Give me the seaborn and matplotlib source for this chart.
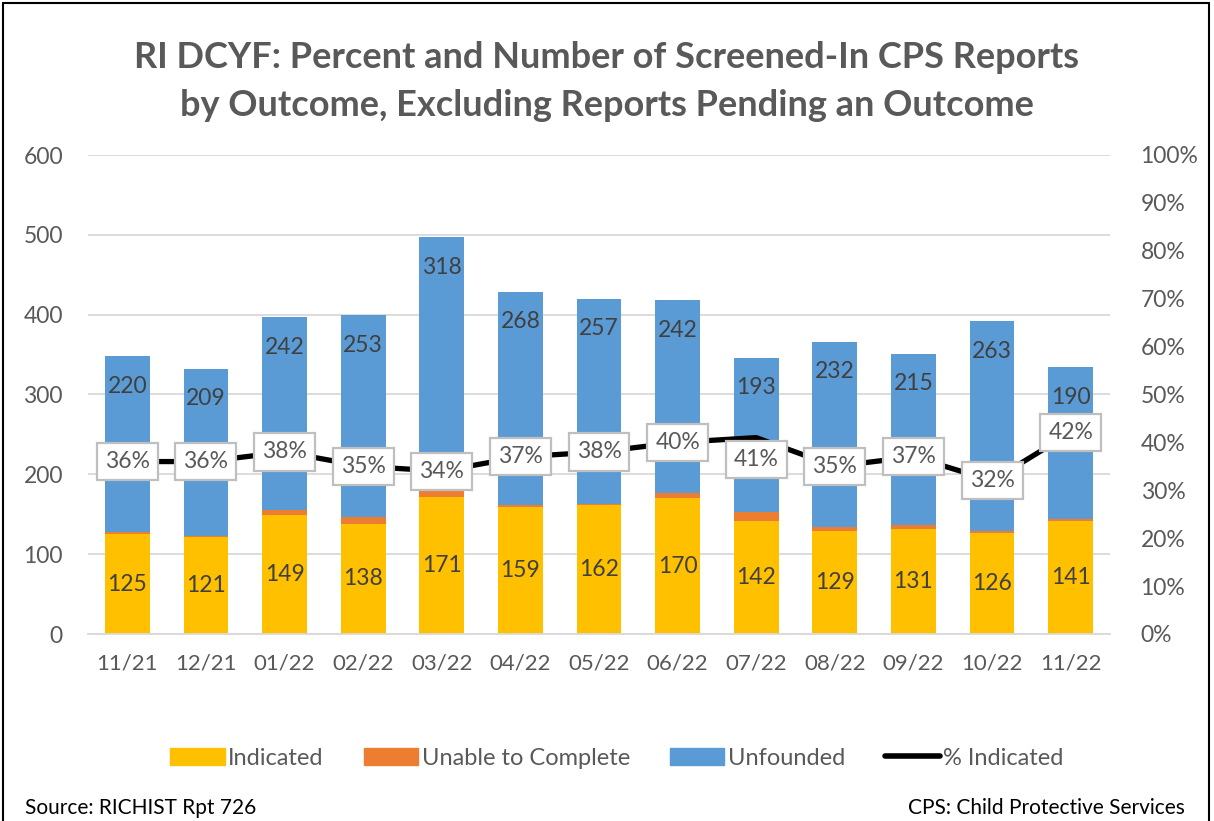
import numpy as np
import pandas as pd
import matplotlib
matplotlib.use("Agg")
import matplotlib.pyplot as plt
import seaborn as sns
from matplotlib.patches import Patch, Rectangle
from matplotlib.lines import Line2D

# ---- data ----
months = ["11/21", "12/21", "01/22", "02/22", "03/22", "04/22", "05/22",
          "06/22", "07/22", "08/22", "09/22", "10/22", "11/22"]
indicated = [125, 121, 149, 138, 171, 159, 162, 170, 142, 129, 131, 126, 141]
unable = [3, 2, 6, 8, 8, 2, 1, 6, 11, 5, 5, 3, 3]
unfounded = [220, 209, 242, 253, 318, 268, 257, 242, 193, 232, 215, 263, 190]
pct_indicated = [36, 36, 38, 35, 34, 37, 38, 40, 41, 35, 37, 32, 42]

YELLOW = "#FFC000"
ORANGE = "#ED7D31"
BLUE = "#5B9BD5"
GRID = "#D9D9D9"
TXT = "#595959"
DARK = "#404040"

sns.set_style("white")
FONT = ["Lato", "DejaVu Sans"]
plt.rcParams["font.family"] = FONT

df = pd.DataFrame({"month": months, "indicated": indicated,
                   "unable": unable, "unfounded": unfounded})
df["ind_unable"] = df["indicated"] + df["unable"]
df["total"] = df["ind_unable"] + df["unfounded"]

W, H = 1214, 821
fig = plt.figure(figsize=(W / 100, H / 100), dpi=100)
ax = fig.add_axes([88 / W, 1 - 634 / H, (1110 - 88) / W, (634 - 155) / H])

bw = 0.57
sns.barplot(data=df, x="month", y="total", color=BLUE, width=bw, saturation=1,
            linewidth=0, ax=ax, zorder=2)
sns.barplot(data=df, x="month", y="ind_unable", color=ORANGE, width=bw, saturation=1,
            linewidth=0, ax=ax, zorder=2)
sns.barplot(data=df, x="month", y="indicated", color=YELLOW, width=bw, saturation=1,
            linewidth=0, ax=ax, zorder=2)

ax.set_ylim(0, 600)
ax.set_yticks(range(0, 601, 100))
ax.set_xlim(-0.5, len(months) - 0.5)
ax.grid(axis="y", color=GRID, lw=1.3, zorder=0)
ax.set_axisbelow(True)
for s in ["top", "right", "left"]:
    ax.spines[s].set_visible(False)
ax.spines["bottom"].set_color(GRID)
ax.spines["bottom"].set_linewidth(1.3)
ax.set_xlabel("")
ax.set_ylabel("")
ax.tick_params(axis="y", length=0, pad=18, labelsize=16.5, labelcolor=TXT)
ax.tick_params(axis="x", which="major", length=0, pad=14, labelsize=16, labelcolor=TXT)
ax.set_xticks(np.arange(-0.5, len(months), 1.0), minor=True)
ax.tick_params(axis="x", which="minor", length=8, color=GRID, width=1.3)

# value labels
for i, row in df.iterrows():
    ax.text(i, row["indicated"] / 2, f"{row['indicated']}", ha="center", va="center",
            fontsize=16.5, color=DARK, zorder=5)
    ax.annotate(f"{row['unfounded']}", (i, row["total"]), xytext=(0, -21.6),
                textcoords="offset points", ha="center", va="center",
                fontsize=16.5, color=DARK, zorder=5)

# secondary axis line
ax2 = ax.twinx()
pct = np.array(pct_indicated) / 100
sns.lineplot(x=np.arange(len(months)), y=pct, ax=ax2, color="black", lw=3.8,
             zorder=3, legend=False)
ax2.set_ylim(0, 1)
ax2.set_xlim(-0.5, len(months) - 0.5)
ax2.set_yticks(np.arange(0, 1.01, 0.1))
ax2.set_yticklabels([f"{int(round(v * 100))}%" for v in np.arange(0, 1.01, 0.1)])
ax2.tick_params(axis="y", length=0, pad=22, labelsize=16.5, labelcolor=TXT)
for s in ax2.spines.values():
    s.set_visible(False)
ax2.set_ylabel("")

label_shift = {8: -16}
for i, p in enumerate(pct_indicated):
    ax2.annotate(f"{p}%", (i, p / 100), xytext=(0, label_shift.get(i, 0)),
                 textcoords="offset points", ha="center", va="center",
                 fontsize=16.5, color=TXT, zorder=6,
                 bbox=dict(boxstyle="square,pad=0.35", fc="white", ec="#BFBFBF", lw=1.6))

# title
fig.text(0.5, 1 - 58 / H, "RI DCYF: Percent and Number of Screened-In CPS Reports",
         ha="center", va="center", fontsize=26, fontweight="bold", color=TXT)
fig.text(0.5, 1 - 106 / H, "by Outcome, Excluding Reports Pending an Outcome",
         ha="center", va="center", fontsize=26, fontweight="bold", color=TXT)

# legend
handles = [Patch(color=YELLOW, label="Indicated"),
           Patch(color=ORANGE, label="Unable to Complete"),
           Patch(color=BLUE, label="Unfounded"),
           Line2D([0], [0], color="black", lw=4, label="% Indicated")]
leg = fig.legend(handles=handles, loc="center", bbox_to_anchor=(617 / W, 1 - 758 / H),
                 ncol=4, frameon=False, fontsize=17, handlelength=2.3,
                 handleheight=0.7, handletextpad=0.15, columnspacing=1.7)
for t in leg.get_texts():
    t.set_color(TXT)

# footer
fig.text(25 / W, 1 - 808 / H, "Source: RICHIST Rpt 726", ha="left", va="center",
         fontsize=15, color="black")
fig.text(1185 / W, 1 - 808 / H, "CPS: Child Protective Services", ha="right", va="center",
         fontsize=15, color="black")

# outer border
fig.patches.append(Rectangle((3 / W, -0.05), (1209 - 3) / W, 1.05 - 3 / H,
                             transform=fig.transFigure, fill=False, ec="black", lw=1.5))

fig.savefig("out.png", dpi=100)
